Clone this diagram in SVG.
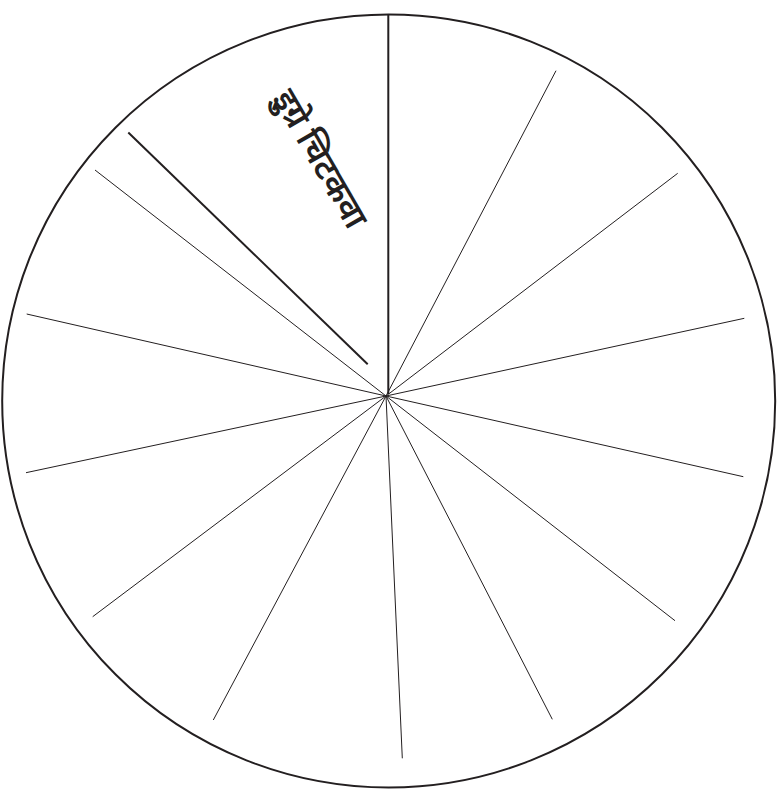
<svg xmlns="http://www.w3.org/2000/svg" width="778" height="791" viewBox="0 0 778 791">
<style>
.thin{stroke:#231f20;stroke-width:1;fill:none}
.thick{stroke:#231f20;stroke-width:2;fill:none}
.lbl{font-family:"Noto Sans Devanagari","Noto Sans","Lohit Devanagari",sans-serif;font-size:34px;font-weight:600;fill:#231f20}
</style>
<rect width="778" height="791" fill="#fff"/>
<g id="wheel">
<circle cx="388.7" cy="401" r="386.5" class="thick"/>
</g>
<g id="connectors">
<line x1="388.3" y1="15" x2="388.3" y2="394" class="thick"/>
<line x1="128.3" y1="132.5" x2="367.7" y2="364.3" class="thick"/>
<line x1="95" y1="170" x2="386" y2="396" class="thin"/>
<line x1="26.7" y1="314" x2="386" y2="396" class="thin"/>
<line x1="26" y1="472.7" x2="386" y2="396" class="thin"/>
<line x1="92.7" y1="616.7" x2="386" y2="396" class="thin"/>
<line x1="213.3" y1="720" x2="386" y2="396" class="thin"/>
<line x1="402.3" y1="758.3" x2="386" y2="396" class="thin"/>
<line x1="552.3" y1="719.3" x2="386" y2="396" class="thin"/>
<line x1="675" y1="620.7" x2="386" y2="396" class="thin"/>
<line x1="743.3" y1="476.7" x2="386" y2="396" class="thin"/>
<line x1="744.3" y1="318.3" x2="386" y2="396" class="thin"/>
<line x1="677.7" y1="173.3" x2="386" y2="396" class="thin"/>
<line x1="556" y1="70.7" x2="386" y2="396" class="thin"/>
</g>
<g id="label">
<text class="lbl" transform="translate(272,98) rotate(60)">इुग्रे चिटकवा</text>
</g>
</svg>
